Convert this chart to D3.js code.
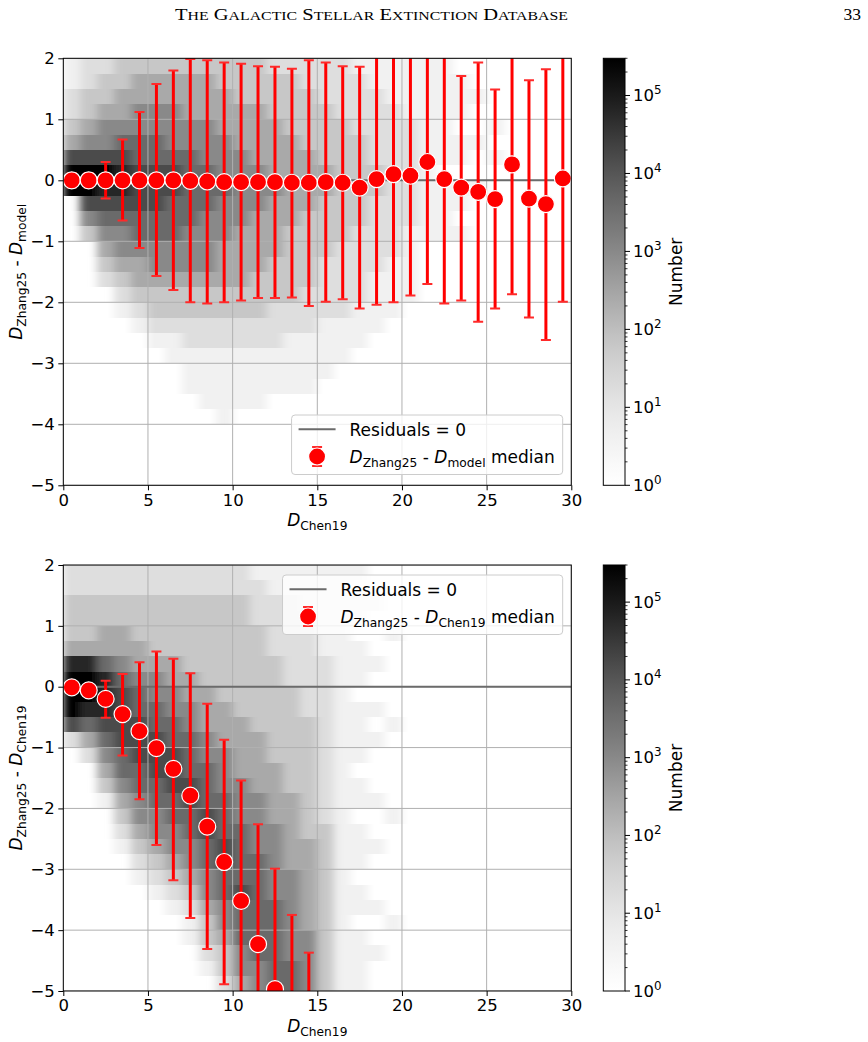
<!DOCTYPE html>
<html>
<head>
<meta charset="utf-8">
<script src="https://cdn.jsdelivr.net/npm/d3@7"></script>
<style>
  body { margin: 0; background: #fff; }
  text { font-family: "DejaVu Sans", sans-serif; fill: #000; }
</style>
</head>
<body>
<svg id="fig" width="868" height="1042"></svg>
<script>
// ---- data ----
const xCenters = [0.5, 1.5, 2.5, 3.5, 4.5, 5.5, 6.5, 7.5, 8.5, 9.5, 10.5, 11.5, 12.5, 13.5, 14.5,
                  15.5, 16.5, 17.5, 18.5, 19.5, 20.5, 21.5, 22.5, 23.5, 24.5, 25.5, 26.5, 27.5, 28.5, 29.5];
// top panel: D_Zhang25 - D_model
const topMedian = [0.00, 0.00, 0.00, 0.00, 0.00, 0.00, 0.00, -0.01, -0.02, -0.03, -0.03, -0.03, -0.03, -0.04, -0.04,
                   -0.03, -0.04, -0.12, 0.02, 0.10, 0.075, 0.30, 0.02, -0.12, -0.19, -0.31, 0.26, -0.30, -0.39, 0.03];
const topLow = [-0.12, -0.12, -0.30, -0.66, -1.11, -1.57, -1.80, -2.00, -2.02, -2.00, -1.97, -1.93, -1.93, -1.92, -2.06,
                -1.99, -1.95, -2.10, -2.04, -2.00, -1.89, -1.70, -2.02, -1.97, -2.32, -2.10, -1.87, -2.25, -2.62, -1.99];
const topHigh = [0.12, 0.12, 0.30, 0.67, 1.12, 1.58, 1.80, 1.99, 1.97, 1.93, 1.91, 1.87, 1.86, 1.83, 1.97,
                 1.93, 1.87, 1.86, 2.30, 2.40, 2.30, 2.50, 2.20, 1.71, 1.93, 1.49, 2.40, 1.64, 1.82, 2.30];
// bottom panel: D_Zhang25 - D_Chen19
const botCenters = [0.5, 1.5, 2.5, 3.5, 4.5, 5.5, 6.5, 7.5, 8.5, 9.5, 10.5, 11.5, 12.5, 13.5, 14.5];
const botMedian = [-0.01, -0.06, -0.20, -0.45, -0.73, -1.01, -1.35, -1.79, -2.30, -2.88, -3.52, -4.23, -4.97, -5.70, -6.40];
const botLow = [-0.10, -0.15, -0.51, -1.13, -1.85, -2.60, -3.18, -3.80, -4.31, -4.89, -5.60, -6.30, -7.00, -7.60, -8.20];
const botHigh = [0.08, 0.03, 0.10, 0.21, 0.40, 0.58, 0.46, 0.22, -0.28, -0.87, -1.54, -2.26, -2.99, -3.75, -4.37];

// 2D histogram, one string per x column (x edges below), one char per y row (y edges below, top to bottom).
// digit d -> log10(count) = 0.6*d ; '.' = empty
const xEdges = [0, 1, 2, 3, 4, 5, 6, 7, 8, 9, 10, 11, 12, 13, 14, 15, 16, 17, 18, 19, 20, 21, 22, 23, 24, 25, 26, 27, 28, 29, 30];
const yEdges = [2, 1.75, 1.5, 1.25, 1, 0.75, 0.5, 0.25, 0, -0.25, -0.5, -0.75, -1, -1.25, -1.5, -1.75, -2,
                -2.25, -2.5, -2.75, -3, -3.25, -3.5, -3.75, -4, -4.25, -4.5, -4.75, -5];
const topHeat = [
  "112234799",
  "223345799753",
  "233455798765432",
  "33445678876554321",
  "344556677766544321",
  "3445566777665543321",
  "34455567766655433211",
  "3444556666655543322111",
  "34445556665555433221111",
  "334445556555444332211111",
  "33344455555444433221111",
  "33344445554444333221111",
  "2333444454444333222111",
  "2333344444433333221111",
  "2233334444333332221111",
  "222333344333322221111",
  "22223333333322222111",
  "1222233333322222111",
  "112222233222221111",
  "11122222222221111",
  "1111222222211111",
  "111111111111",
  "1111111.1111",
  ".111.11.11.1",
  "..1..1..1...",
  "....1.1.....",
  "", "", "", ""
];
const botHeat = [
  "223334899972",
  "2233348998642",
  "2233446888765431",
  "2233445677776654321",
  "223334456677766554321",
  "2233334556677766554321",
  "22333344556677766554321",
  "2233333445566677665543211",
  "223333334445566677665543321",
  "2233333334445556667766554332",
  "2233333333444455566667666554",
  "1222333333344445555666666655",
  "1122223333333444455555666666",
  "1122222233333334444455555566",
  "1112222222333333334444445555",
  "1111112222222222233333333333",
  "1111111111111111111111111111",
  "1.11.111.1111.11.111.11.1111",
  "..1...1..1.1...1..1...1..1..",
  "....1.....1.....1......1....",
  "", "", "", "", "", "", "", "", "", ""
];

const xTicks = [0, 5, 10, 15, 20, 25, 30];
const yTicks = [-5, -4, -3, -2, -1, 0, 1, 2];
const cbTicks = [1, 10, 100, 1000, 10000, 100000];
const cbMax = 3e5;

// ---- drawing ----
const svg = d3.select('#fig');
const defs = svg.append('defs');
const L = 63.3, R = 571.3;
const CB0 = 603.3, CB1 = 625;
const tickFont = 16.5, labFont = 17;
const cnorm = d3.scaleLog().domain([1, cbMax]).range([0, 1]).clamp(true);
const fmt = d3.format('d');

// colour bar gradient (linear in log count)
const grad = defs.append('linearGradient').attr('id', 'cbgrad')
  .attr('x1', 0).attr('y1', 1).attr('x2', 0).attr('y2', 0);
d3.range(0, 1.0001, 0.05).forEach(t => {
  grad.append('stop').attr('offset', t).attr('stop-color', d3.interpolateGreys(t));
});
// smear the histogram columns sideways only (the bins look streaky along x)
defs.append('filter').attr('id', 'hsmear')
  .attr('x', -0.05).attr('y', 0).attr('width', 1.1).attr('height', 1)
  .append('feGaussianBlur').attr('stdDeviation', '4 0');

// rich text: parts = [{t, it, sub}]
function rich(sel, parts, size) {
  let down = false;
  parts.forEach(p => {
    const ts = sel.append('tspan').text(p.t);
    if (p.it) ts.attr('font-style', 'italic');
    if (p.sub) {
      ts.attr('font-size', size * 0.72).attr('dy', size * 0.24);
      down = true;
    } else {
      ts.attr('font-size', size);
      if (down) { ts.attr('dy', -size * 0.24); down = false; }
    }
  });
  return sel;
}

function panel(o) {
  const x = d3.scaleLinear().domain([0, 30]).range([L, R]);
  const y = d3.scaleLinear().domain([-5, 2]).range([o.bottom, o.top]);
  const g = svg.append('g');

  defs.append('clipPath').attr('id', o.id + 'clip')
    .append('rect').attr('x', L).attr('y', o.top).attr('width', R - L).attr('height', o.bottom - o.top);
  const plot = g.append('g').attr('clip-path', `url(#${o.id}clip)`);

  // histogram cells
  const cells = [];
  o.heat.forEach((col, k) => {
    for (let i = 0; i < col.length; i++) {
      const ch = col[i];
      if (ch === '.') continue;
      cells.push({ x0: xEdges[k], x1: xEdges[k + 1], yTop: yEdges[i], yBot: yEdges[i + 1], n: Math.pow(10, 0.6 * (+ch)) });
    }
  });
  plot.append('g').attr('filter', 'url(#hsmear)')
    .selectAll('rect.cell').data(cells).join('rect')
    .attr('class', 'cell')
    .attr('x', d => x(d.x0))
    .attr('width', d => x(d.x1) - x(d.x0))
    .attr('y', d => y(d.yTop))
    .attr('height', d => y(d.yBot) - y(d.yTop))
    .attr('fill', d => d3.interpolateGreys(cnorm(d.n)))
    .attr('shape-rendering', 'crispEdges');

  // grid
  plot.selectAll('line.gx').data(xTicks).join('line')
    .attr('x1', d => x(d)).attr('x2', d => x(d)).attr('y1', o.top).attr('y2', o.bottom)
    .attr('stroke', '#b0b0b0').attr('stroke-width', 1);
  plot.selectAll('line.gy').data(yTicks).join('line')
    .attr('y1', d => y(d)).attr('y2', d => y(d)).attr('x1', L).attr('x2', R)
    .attr('stroke', '#b0b0b0').attr('stroke-width', 1);

  // residuals = 0
  plot.append('line').attr('x1', L).attr('x2', R).attr('y1', y(0)).attr('y2', y(0))
    .attr('stroke', '#6b6b6b').attr('stroke-width', 2);

  // error bars
  const pts = o.xs.map((xv, i) => ({ x: xv, m: o.med[i], lo: o.lo[i], hi: o.hi[i] }));
  plot.selectAll('line.eb').data(pts).join('line')
    .attr('x1', d => x(d.x)).attr('x2', d => x(d.x)).attr('y1', d => y(d.lo)).attr('y2', d => y(d.hi))
    .attr('stroke', '#ff0000').attr('stroke-width', 3);
  ['lo', 'hi'].forEach(k => {
    plot.selectAll('line.cap' + k).data(pts).join('line')
      .attr('x1', d => x(d.x) - 5).attr('x2', d => x(d.x) + 5)
      .attr('y1', d => y(d[k])).attr('y2', d => y(d[k]))
      .attr('stroke', '#ff2a2a').attr('stroke-width', 2);
  });
  plot.selectAll('circle.pt').data(pts).join('circle')
    .attr('cx', d => x(d.x)).attr('cy', d => y(d.m)).attr('r', 8.5)
    .attr('fill', '#ff0000').attr('stroke', '#ffffff').attr('stroke-width', 1.2);

  // axes
  const ax = g.append('g').attr('transform', `translate(0,${o.bottom})`)
    .call(d3.axisBottom(x).tickValues(xTicks).tickFormat(fmt).tickSize(5).tickSizeOuter(0).tickPadding(3.5));
  const ay = g.append('g').attr('transform', `translate(${L},0)`)
    .call(d3.axisLeft(y).tickValues(yTicks).tickFormat(fmt).tickSize(5).tickSizeOuter(0).tickPadding(3.5));
  [ax, ay].forEach(a => {
    a.select('.domain').remove();
    a.attr('font-size', tickFont).attr('font-family', '"DejaVu Sans", sans-serif');
    a.selectAll('line').attr('stroke', '#000');
  });
  g.append('rect').attr('x', L).attr('y', o.top).attr('width', R - L).attr('height', o.bottom - o.top)
    .attr('fill', 'none').attr('stroke', '#000').attr('stroke-width', 1);

  // axis labels
  rich(g.append('text').attr('x', (L + R) / 2).attr('y', o.bottom + 40.7).attr('text-anchor', 'middle'),
    [{ t: 'D', it: true }, { t: 'Chen19', sub: true }], labFont);
  rich(g.append('text').attr('text-anchor', 'middle')
      .attr('transform', `translate(22,${(o.top + o.bottom) / 2}) rotate(-90)`),
    o.ylab, labFont);

  // legend
  const lg = g.append('g');
  const box = lg.append('rect').attr('rx', 3.5).attr('fill', '#fff').attr('fill-opacity', 0.8)
    .attr('stroke', '#cccccc').attr('stroke-width', 1);
  const t1 = lg.append('text').text('Residuals = 0').attr('font-size', labFont);
  const t2 = rich(lg.append('text'), o.leglab, labFont);
  const w = 58 + Math.max(t1.node().getComputedTextLength(), t2.node().getComputedTextLength()) + 8;
  const bx = R - 8.6 - w;
  const by = o.legTop;
  box.attr('x', bx).attr('y', by).attr('width', w).attr('height', 59.5);
  lg.append('line').attr('x1', bx + 7).attr('x2', bx + 44).attr('y1', by + 14.3).attr('y2', by + 14.3)
    .attr('stroke', '#6b6b6b').attr('stroke-width', 2);
  t1.attr('x', bx + 58).attr('y', by + 21);
  t2.attr('x', bx + 58).attr('y', by + 47.5);
  const mx = bx + 25.5, my = by + 41.5;
  lg.append('line').attr('x1', mx).attr('x2', mx).attr('y1', my - 9.5).attr('y2', my + 9.5)
    .attr('stroke', '#ff0000').attr('stroke-width', 3);
  [-9.5, 9.5].forEach(dy => lg.append('line').attr('x1', mx - 5).attr('x2', mx + 5)
    .attr('y1', my + dy).attr('y2', my + dy).attr('stroke', '#ff2a2a').attr('stroke-width', 2));
  lg.append('circle').attr('cx', mx).attr('cy', my).attr('r', 8.5)
    .attr('fill', '#ff0000').attr('stroke', '#fff').attr('stroke-width', 1.2);

  // colour bar
  const cy = d3.scaleLog().domain([1, cbMax]).range([o.bottom, o.top]);
  const cg = g.append('g');
  cg.append('rect').attr('x', CB0).attr('y', o.top).attr('width', CB1 - CB0).attr('height', o.bottom - o.top)
    .attr('fill', 'url(#cbgrad)').attr('stroke', '#000').attr('stroke-width', 1);
  const minor = cy.ticks(60).filter(v => v <= cbMax && !cbTicks.includes(v));
  cg.selectAll('line.mn').data(minor).join('line')
    .attr('x1', CB1).attr('x2', CB1 + 2.5).attr('y1', d => cy(d)).attr('y2', d => cy(d))
    .attr('stroke', '#000').attr('stroke-width', 0.8);
  cg.selectAll('line.mj').data(cbTicks).join('line')
    .attr('x1', CB1).attr('x2', CB1 + 5).attr('y1', d => cy(d)).attr('y2', d => cy(d))
    .attr('stroke', '#000').attr('stroke-width', 1);
  cbTicks.forEach(v => {
    const tt = cg.append('text').attr('x', CB1 + 8).attr('y', cy(v) + 5.5).attr('font-size', tickFont);
    tt.append('tspan').text('10');
    tt.append('tspan').text(String(Math.round(Math.log10(v)))).attr('font-size', tickFont * 0.72).attr('dy', -7);
  });
  cg.append('text').text('Number').attr('font-size', labFont).attr('text-anchor', 'middle')
    .attr('transform', `translate(681.5,${(o.top + o.bottom) / 2}) rotate(-90)`);
}

panel({
  id: 'top', top: 58.3, bottom: 485.3, heat: topHeat,
  xs: xCenters, med: topMedian, lo: topLow, hi: topHigh,
  ylab: [{ t: 'D', it: true }, { t: 'Zhang25', sub: true }, { t: ' - ' }, { t: 'D', it: true }, { t: 'model', sub: true }],
  leglab: [{ t: 'D', it: true }, { t: 'Zhang25', sub: true }, { t: ' - ' }, { t: 'D', it: true }, { t: 'model', sub: true }, { t: ' median' }],
  legTop: 415
});
panel({
  id: 'bot', top: 565, bottom: 991, heat: botHeat,
  xs: botCenters, med: botMedian, lo: botLow, hi: botHigh,
  ylab: [{ t: 'D', it: true }, { t: 'Zhang25', sub: true }, { t: ' - ' }, { t: 'D', it: true }, { t: 'Chen19', sub: true }],
  leglab: [{ t: 'D', it: true }, { t: 'Zhang25', sub: true }, { t: ' - ' }, { t: 'D', it: true }, { t: 'Chen19', sub: true }, { t: ' median' }],
  legTop: 575
});

// running header
const head = svg.append('text').attr('x', 175).attr('y', 19.5)
  .attr('font-family', '"Liberation Serif", serif')
  .attr('textLength', 393).attr('lengthAdjust', 'spacingAndGlyphs');
const words = ['The', 'Galactic', 'Stellar', 'Extinction', 'Database'];
words.forEach((wd, i) => {
  head.append('tspan').text((i ? ' ' : '') + wd[0]).attr('font-size', 17.5).style('font-family', '"Liberation Serif", serif');
  head.append('tspan').text(wd.slice(1).toUpperCase()).attr('font-size', 13.5).style('font-family', '"Liberation Serif", serif');
});
svg.append('text').attr('x', 861).attr('y', 19.5).attr('text-anchor', 'end')
  .attr('font-size', 17.5).style('font-family', '"Liberation Serif", serif').text('33');
</script>
</body>
</html>
